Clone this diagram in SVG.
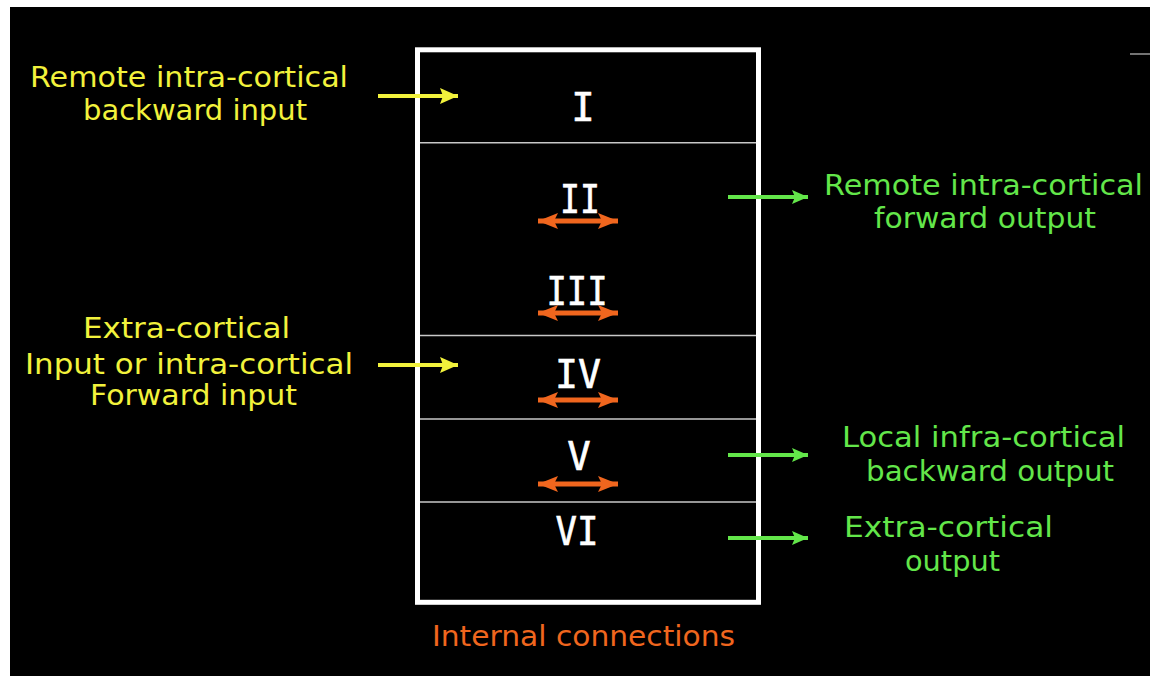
<svg xmlns="http://www.w3.org/2000/svg" width="1150" height="676" viewBox="0 0 1150 676">
  <defs>
    <style>
      .lbl { font-family: "DejaVu Sans", "Open Sans", sans-serif; font-size: 29px; }
      .yel { fill: #f2f23c; }
      .grn { fill: #63e64a; }
      .org { fill: #f0661e; }
      .num { font-family: "DejaVu Sans Mono", "Liberation Mono", monospace; font-size: 39px; fill: #ffffff; text-anchor: middle; stroke: #ffffff; stroke-width: 0.6; }
      .div { stroke: #c8c8c8; stroke-width: 1.5; }
      .ya { stroke: #f2f23c; stroke-width: 4; fill: none; }
      .ga { stroke: #63e64a; stroke-width: 4; fill: none; }
      .oa { stroke: #f0661e; stroke-width: 5; fill: none; }
    </style>
    <marker id="hy" markerUnits="userSpaceOnUse" markerWidth="20" markerHeight="18" refX="18" refY="9" orient="auto">
      <path d="M0,1 L18,9 L0,17 L3,9 Z" fill="#f2f23c"/>
    </marker>
    <marker id="hg" markerUnits="userSpaceOnUse" markerWidth="18" markerHeight="14" refX="16" refY="7" orient="auto">
      <path d="M0,0 L16,7 L0,14 L3,7 Z" fill="#63e64a"/>
    </marker>
    <marker id="ho" markerUnits="userSpaceOnUse" markerWidth="22" markerHeight="18" refX="20" refY="9" orient="auto-start-reverse">
      <path d="M0,1 L20,9 L0,17 L4,9 Z" fill="#f0661e"/>
    </marker>
  </defs>

  <rect x="0" y="0" width="1150" height="676" fill="#ffffff"/>
  <rect x="10" y="7" width="1140" height="669" fill="#000000"/>
  <line x1="1130" y1="54" x2="1150" y2="54" stroke="#9a9a9a" stroke-width="1.5"/>

  <g id="column">
    <rect x="417.5" y="49.8" width="341" height="552.5" fill="none" stroke="#ffffff" stroke-width="5"/>
    <line class="div" x1="420" y1="142.7" x2="756" y2="142.7"/>
    <line class="div" x1="420" y1="335.5" x2="756" y2="335.5"/>
    <line class="div" x1="420" y1="419" x2="756" y2="419"/>
    <line class="div" x1="420" y1="502" x2="756" y2="502"/>
  </g>

  <g id="layer-I"><text class="num" x="583" y="121">I</text></g>
  <g id="layer-II"><text class="num" x="580" y="213" textLength="40" lengthAdjust="spacingAndGlyphs">II</text></g>
  <g id="layer-III"><text class="num" x="577" y="305" textLength="61" lengthAdjust="spacingAndGlyphs">III</text></g>
  <g id="layer-IV"><text class="num" x="578" y="388" textLength="46" lengthAdjust="spacingAndGlyphs">IV</text></g>
  <g id="layer-V"><text class="num" x="579" y="470">V</text></g>
  <g id="layer-VI"><text class="num" x="577" y="545" textLength="43" lengthAdjust="spacingAndGlyphs">VI</text></g>

  <g id="label-backward-input">
    <text class="lbl yel" x="30" y="87" textLength="318" lengthAdjust="spacingAndGlyphs">Remote intra-cortical</text>
    <text class="lbl yel" x="83" y="120" textLength="224" lengthAdjust="spacingAndGlyphs">backward input</text>
  </g>
  <g id="label-forward-input">
    <text class="lbl yel" x="83" y="338" textLength="207" lengthAdjust="spacingAndGlyphs">Extra-cortical</text>
    <text class="lbl yel" x="25" y="374" textLength="328" lengthAdjust="spacingAndGlyphs">Input or intra-cortical</text>
    <text class="lbl yel" x="90" y="405" textLength="207" lengthAdjust="spacingAndGlyphs">Forward input</text>
  </g>
  <g id="label-forward-output">
    <text class="lbl grn" x="824" y="195" textLength="319" lengthAdjust="spacingAndGlyphs">Remote intra-cortical</text>
    <text class="lbl grn" x="874" y="228" textLength="222" lengthAdjust="spacingAndGlyphs">forward output</text>
  </g>
  <g id="label-backward-output">
    <text class="lbl grn" x="842" y="447" textLength="283" lengthAdjust="spacingAndGlyphs">Local infra-cortical</text>
    <text class="lbl grn" x="866" y="481" textLength="248" lengthAdjust="spacingAndGlyphs">backward output</text>
  </g>
  <g id="label-extra-output">
    <text class="lbl grn" x="844" y="537" textLength="209" lengthAdjust="spacingAndGlyphs">Extra-cortical</text>
    <text class="lbl grn" x="905" y="571" textLength="95" lengthAdjust="spacingAndGlyphs">output</text>
  </g>
  <g id="label-internal">
    <text class="lbl org" x="432" y="646" textLength="303" lengthAdjust="spacingAndGlyphs">Internal connections</text>
  </g>

  <g id="connectors">
    <line class="ya" x1="378" y1="96" x2="458" y2="96" marker-end="url(#hy)"/>
    <line class="ya" x1="378" y1="365" x2="458" y2="365" marker-end="url(#hy)"/>
    <line class="ga" x1="728" y1="197" x2="808" y2="197" marker-end="url(#hg)"/>
    <line class="ga" x1="728" y1="455" x2="808" y2="455" marker-end="url(#hg)"/>
    <line class="ga" x1="728" y1="538" x2="808" y2="538" marker-end="url(#hg)"/>
    <line class="oa" x1="538" y1="221" x2="618" y2="221" marker-start="url(#ho)" marker-end="url(#ho)"/>
    <line class="oa" x1="538" y1="313" x2="618" y2="313" marker-start="url(#ho)" marker-end="url(#ho)"/>
    <line class="oa" x1="538" y1="400" x2="618" y2="400" marker-start="url(#ho)" marker-end="url(#ho)"/>
    <line class="oa" x1="538" y1="484" x2="618" y2="484" marker-start="url(#ho)" marker-end="url(#ho)"/>
  </g>
</svg>
